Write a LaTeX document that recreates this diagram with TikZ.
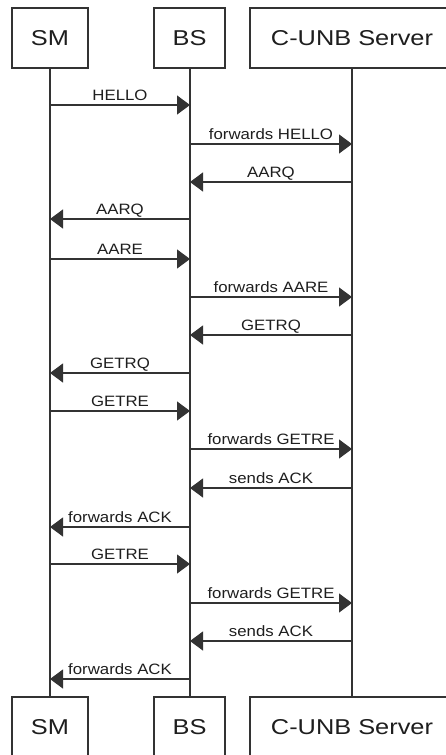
\documentclass[tikz,border=0pt]{standalone}
\usepackage{fontspec}
\setmainfont{Liberation Sans}
\newfontfamily\boxfont[FakeStretch=1.18]{Liberation Sans}
\newfontfamily\msgfont[FakeStretch=1.12]{Liberation Sans}
\usetikzlibrary{arrows.meta}
\definecolor{ln}{HTML}{333333}
\definecolor{tx}{HTML}{1E1E1E}
\tikzset{
  actor/.style={draw=ln, line width=1.1pt, fill=white, minimum height=60pt, inner sep=0pt,
    text=tx, font=\boxfont\fontsize{21.5}{21.5}\selectfont},
  life/.style={draw=ln, line width=1.1pt},
  msg/.style={draw=ln, line width=1.1pt, -{Triangle[length=13pt,width=19pt]}, shorten >=0pt},
  lbl/.style={text=tx, font=\msgfont\fontsize{15}{15}\selectfont, anchor=base, yshift=4.5pt, inner sep=0pt}
}
\begin{document}
\begin{tikzpicture}[x=1pt,y=-1pt]
\useasboundingbox (0,0) rectangle (446,755);
\clip (0,0) rectangle (446,755);
\fill[white] (0,0) rectangle (446,755);
% top actors
\node[actor, minimum width=76pt] (smT) at (50,38) {SM};
\node[actor, minimum width=71pt] (bsT) at (189.5,38) {BS};
\node[actor, minimum width=204pt] (svT) at (352,38) {C-UNB Server};
% bottom actors
\node[actor, minimum width=76pt] (smB) at (50,727) {SM};
\node[actor, minimum width=71pt] (bsB) at (189.5,727) {BS};
\node[actor, minimum width=204pt] (svB) at (352,727) {C-UNB Server};
% lifelines
\draw[life] (smT.south) -- (smB.north);
\draw[life] (bsT.south -| 190,0) -- (bsB.north -| 190,0);
\draw[life] (svT.south) -- (svB.north);
% message anchor points
\foreach \i/\y in {1/105,2/144,3/182,4/219,5/259,6/297,7/335,8/373,9/411,10/449,11/488,12/527,13/564,14/603,15/641,16/679}{
  \coordinate (sm\i) at (50,\y);
  \coordinate (bs\i) at (190,\y);
  \coordinate (sv\i) at (352,\y);
}
% messages
\draw[msg] (sm1) -- (bs1) node[lbl, midway] {HELLO};
\draw[msg] (bs2) -- (sv2) node[lbl, midway] {forwards HELLO};
\draw[msg] (sv3) -- (bs3) node[lbl, midway] {AARQ};
\draw[msg] (bs4) -- (sm4) node[lbl, midway] {AARQ};
\draw[msg] (sm5) -- (bs5) node[lbl, midway] {AARE};
\draw[msg] (bs6) -- (sv6) node[lbl, midway] {forwards AARE};
\draw[msg] (sv7) -- (bs7) node[lbl, midway] {GETRQ};
\draw[msg] (bs8) -- (sm8) node[lbl, midway] {GETRQ};
\draw[msg] (sm9) -- (bs9) node[lbl, midway] {GETRE};
\draw[msg] (bs10) -- (sv10) node[lbl, midway] {forwards GETRE};
\draw[msg] (sv11) -- (bs11) node[lbl, midway] {sends ACK};
\draw[msg] (bs12) -- (sm12) node[lbl, midway] {forwards ACK};
\draw[msg] (sm13) -- (bs13) node[lbl, midway] {GETRE};
\draw[msg] (bs14) -- (sv14) node[lbl, midway] {forwards GETRE};
\draw[msg] (sv15) -- (bs15) node[lbl, midway] {sends ACK};
\draw[msg] (bs16) -- (sm16) node[lbl, midway] {forwards ACK};
\end{tikzpicture}
\end{document}
